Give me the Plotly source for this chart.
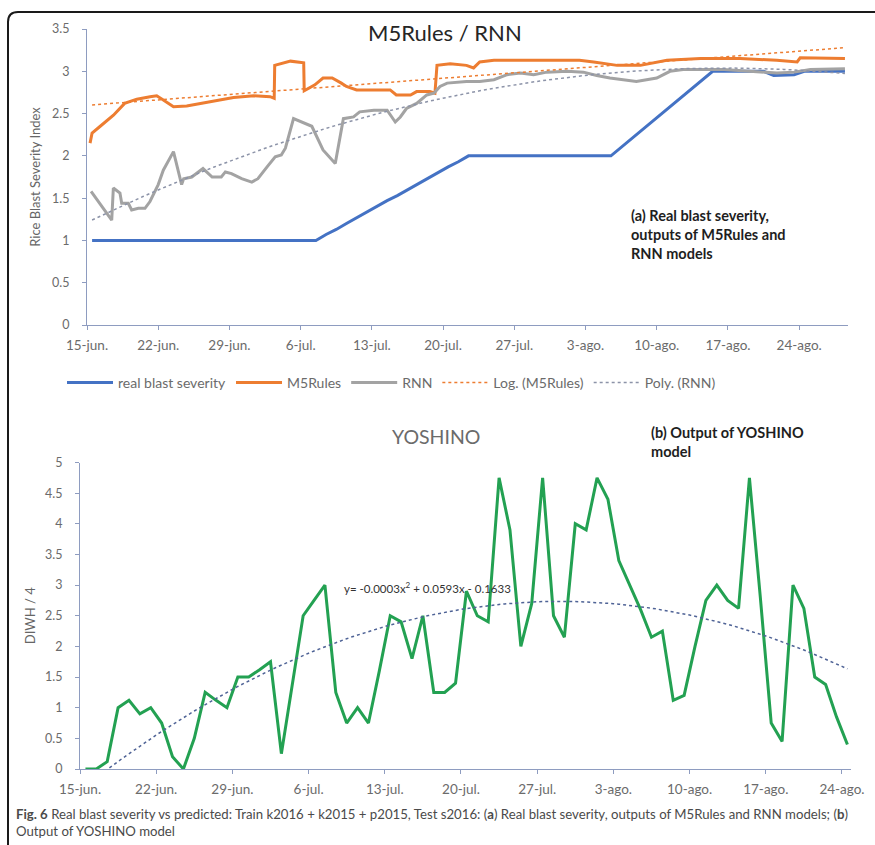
import numpy as np
import plotly.graph_objects as go

# ---------------- data ----------------
week_labels = ["15-jun.", "22-jun.", "29-jun.", "6-jul.", "13-jul.", "20-jul.",
               "27-jul.", "3-ago.", "10-ago.", "17-ago.", "24-ago."]
week_days = [0, 7, 14, 21, 28, 35, 42, 49, 56, 63, 70]

# panel (a): sample day (days after 15-jun) and index value
real_days = [0.5, 22.5, 23.5, 24.5, 25.5, 26.5, 27.5, 28.5, 29.5, 30.5, 31.5, 32.5,
             33.5, 34.5, 35.5, 36.5, 37.5, 51.5, 52.5, 53.5, 54.5, 55.5, 56.5,
             57.5, 58.5, 59.5, 60.5, 61.5, 66.5, 67.5, 69.5, 70.5, 74.5]
real_vals = [1.0, 1.0, 1.07, 1.13, 1.2, 1.27, 1.33, 1.4, 1.47, 1.53, 1.6, 1.67,
             1.73, 1.8, 1.87, 1.93, 2.0, 2.0, 2.1, 2.2, 2.3, 2.4, 2.5,
             2.6, 2.7, 2.8, 2.9, 3.0, 3.0, 2.95, 2.96, 3.0, 3.0]

m5_days = [0.3, 0.5, 1.3, 2.6, 3.7, 4.9, 6.2, 6.85, 7.5, 8.5, 9.8, 11.1, 12.75,
           14.4, 16.4, 18.0, 18.4, 18.45, 20.0, 21.3, 21.35, 22.4, 23.2, 24.1,
           25.0, 25.5, 26.5, 28.2, 29.8, 30.4, 31.8, 32.4, 33.7, 34.2, 34.4,
           35.7, 37.3, 38.0, 38.6, 40.0, 42.3, 44.5, 48.4, 49.8, 52.1, 54.4,
           57.0, 60.3, 64.2, 67.8, 69.8, 70.1, 73.4, 74.5]
m5_vals = [2.15, 2.27, 2.35, 2.48, 2.62, 2.67, 2.70, 2.71, 2.66, 2.58, 2.59, 2.62,
           2.66, 2.69, 2.71, 2.70, 2.68, 3.07, 3.12, 3.10, 2.77, 2.84, 2.92, 2.92,
           2.86, 2.82, 2.78, 2.78, 2.78, 2.72, 2.72, 2.76, 2.76, 2.74, 3.07,
           3.09, 3.07, 3.04, 3.11, 3.13, 3.13, 3.13, 3.13, 3.11, 3.07, 3.07,
           3.13, 3.15, 3.15, 3.13, 3.11, 3.16, 3.15, 3.15]

rnn_days = [0.4, 2.43, 2.59, 3.24, 3.41, 4.06, 4.39, 5.05, 5.7, 6.19, 7.0, 7.5,
            8.5, 9.3, 9.5, 10.3, 11.4, 12.3, 13.2, 13.6, 14.2, 15.2, 16.2, 16.8,
            17.7, 18.5, 19.1, 19.5, 20.3, 22.1, 23.2, 24.4, 25.2, 26.2, 26.8,
            28.2, 29.5, 30.3, 30.8, 31.4, 32.4, 33.4, 34.1, 34.7, 35.4, 37.3,
            38.6, 40.0, 41.3, 42.6, 43.9, 45.2, 47.2, 48.8, 50.1, 51.4, 54.0,
            56.0, 57.3, 58.6, 62.6, 65.9, 67.8, 69.5, 71.1, 74.5]
rnn_vals = [1.58, 1.24, 1.62, 1.56, 1.44, 1.44, 1.36, 1.38, 1.38, 1.46, 1.66, 1.83,
            2.05, 1.66, 1.73, 1.75, 1.85, 1.75, 1.75, 1.81, 1.79, 1.73, 1.69, 1.73,
            1.87, 1.99, 2.01, 2.09, 2.44, 2.35, 2.07, 1.91, 2.44, 2.46, 2.52,
            2.54, 2.54, 2.40, 2.46, 2.56, 2.62, 2.72, 2.74, 2.82, 2.86, 2.88,
            2.88, 2.90, 2.96, 2.98, 2.96, 2.99, 3.00, 2.99, 2.95, 2.92, 2.88,
            2.92, 3.00, 3.02, 3.02, 3.00, 2.98, 2.99, 3.02, 3.03]

# panel (b): daily YOSHINO output, 15-jun .. 24-ago
yoshino_vals = [0, 0, 0.12, 1.0, 1.12, 0.9, 1.0, 0.75, 0.2, 0,
                0.5, 1.25, 1.12, 1.0, 1.5, 1.5, 1.62, 1.75, 0.25, 1.4,
                2.5, 2.75, 3.0, 1.25, 0.75, 1.0, 0.75, 1.6, 2.5, 2.4,
                1.8, 2.5, 1.25, 1.25, 1.4, 2.9, 2.5, 2.4, 4.75, 3.9,
                2.0, 2.7, 4.75, 2.5, 2.15, 4.0, 3.9, 4.75, 4.4, 3.4,
                3.0, 2.6, 2.15, 2.25, 1.12, 1.2, 2.0, 2.75, 3.0, 2.75,
                2.62, 4.75, 2.8, 0.75, 0.45, 3.0, 2.62, 1.5, 1.38, 0.85, 0.4]
yoshino_days = [i + 0.5 for i in range(len(yoshino_vals))]

equation_text = "y= -0.0003x<sup>2</sup> + 0.0593x - 0.1633"

# ---------------- trend lines ----------------
SERIAL0 = 42536  # spreadsheet serial of 15-jun-2016
grid = np.arange(0.5, 75.0, 1.0)
m5_daily = np.interp(grid, m5_days, m5_vals)
rnn_daily = np.interp(grid, rnn_days, rnn_vals)
la, lb = np.polyfit(np.log(SERIAL0 + grid), m5_daily, 1)
log_trend = la * np.log(SERIAL0 + grid) + lb
rnn_poly = np.polyval(np.polyfit(grid, rnn_daily, 2), grid)

yd = np.array(yoshino_days)
yosh_fit = np.polyfit(yd, yoshino_vals, 2)
yosh_x = np.linspace(yd[0], yd[-1], 141)
yosh_trend = np.polyval(yosh_fit, yosh_x)

# ---------------- figure ----------------
W, H = 875, 845


def px(x):
    return x / W


def py(y):
    return 1 - y / H


BLUE = "#4472C4"
ORANGE = "#ED7D31"
GRAY = "#A3A3A3"
GREEN = "#23A152"
AXIS = "#8E9CC0"
TICKTXT = "#6b6b6b"
FONT = "Lato, 'Open Sans', sans-serif"

fig = go.Figure()

fig.add_trace(go.Scatter(x=real_days, y=real_vals, mode="lines", name="real blast severity",
                         line=dict(color=BLUE, width=3), xaxis="x", yaxis="y"))
fig.add_trace(go.Scatter(x=m5_days, y=m5_vals, mode="lines", name="M5Rules",
                         line=dict(color=ORANGE, width=3), xaxis="x", yaxis="y"))
fig.add_trace(go.Scatter(x=rnn_days, y=rnn_vals, mode="lines", name="RNN",
                         line=dict(color=GRAY, width=3), xaxis="x", yaxis="y"))
fig.add_trace(go.Scatter(x=grid, y=log_trend, mode="lines", name="Log. (M5Rules)",
                         line=dict(color=ORANGE, width=1.5, dash="dot"), xaxis="x", yaxis="y"))
fig.add_trace(go.Scatter(x=grid, y=rnn_poly, mode="lines", name="Poly. (RNN)",
                         line=dict(color="#8C93A8", width=1.5, dash="dot"), xaxis="x", yaxis="y"))

fig.add_trace(go.Scatter(x=yd, y=yoshino_vals, mode="lines", name="YOSHINO",
                         line=dict(color=GREEN, width=3), showlegend=False,
                         xaxis="x2", yaxis="y2"))
fig.add_trace(go.Scatter(x=yosh_x, y=yosh_trend, mode="lines", name="Poly. (YOSHINO)",
                         line=dict(color="#4F6396", width=1.5, dash="dot"), showlegend=False,
                         xaxis="x2", yaxis="y2"))

axis_common = dict(showline=True, linecolor=AXIS, linewidth=1.2, ticks="outside",
                   tickcolor=AXIS, ticklen=4, showgrid=False, zeroline=False,
                   automargin=False)
xtick_font = dict(family=FONT, size=13.5, color=TICKTXT)
ytick_font = dict(family=FONT, size=12.5, color=TICKTXT)

fig.update_layout(
    width=W, height=H,
    margin=dict(l=0, r=0, t=0, b=0),
    paper_bgcolor="white", plot_bgcolor="white",
    xaxis=dict(domain=[px(87), px(848)], range=[0, 74.8], tickvals=week_days,
               ticktext=week_labels, anchor="y", ticklabelstandoff=4,
               tickfont=xtick_font, **axis_common),
    yaxis=dict(domain=[py(325), py(29)], range=[0, 3.5], dtick=0.5, anchor="x",
               ticklabelstandoff=10, tickfont=ytick_font,
               title=dict(text="Rice Blast Severity Index", standoff=8,
                          font=dict(family=FONT, size=13, color="#666666")),
               **axis_common),
    xaxis2=dict(domain=[px(80), px(851)], range=[0, 70.83], tickvals=week_days,
                ticktext=week_labels, anchor="y2", ticklabelstandoff=4,
                tickfont=xtick_font, **axis_common),
    yaxis2=dict(domain=[py(769), py(462.5)], range=[0, 5], dtick=0.5, anchor="x2",
                ticklabelstandoff=10, tickfont=ytick_font,
                title=dict(text="DIWH / 4", standoff=6,
                           font=dict(family=FONT, size=13, color="#666666")),
                **axis_common),
    showlegend=True,
    legend=dict(orientation="h", x=px(62), y=py(367), xanchor="left", yanchor="top",
                font=dict(family=FONT, size=14, color="#6b6b6b"),
                itemwidth=46, bgcolor="rgba(0,0,0,0)"),
)

annotations = [
    dict(text="M5Rules / RNN", x=px(445), y=py(33), font=dict(family=FONT, size=22, color="#262626")),
    dict(text="YOSHINO", x=px(436), y=py(436), font=dict(family=FONT, size=19.5, color="#6b6b6b")),
    dict(text="<b>(a) Real blast severity,<br>outputs of M5Rules and<br>RNN models</b>",
         x=px(629), y=py(235), xanchor="left", align="left",
         font=dict(family=FONT, size=14.5, color="#1e1e1e")),
    dict(text="<b>(b) Output of YOSHINO<br>model</b>", x=px(649), y=py(442),
         xanchor="left", align="left", font=dict(family=FONT, size=14.5, color="#1e1e1e")),
    dict(text=equation_text, x=px(342), y=py(587), xanchor="left",
         font=dict(family=FONT, size=11.5, color="#333333")),
    dict(text="<b>Fig. 6</b> Real blast severity vs predicted: Train k2016 + k2015 + p2015, "
              "Test s2016: (<b>a</b>) Real blast severity, outputs of M5Rules and RNN models; (<b>b</b>)",
         x=px(14), y=py(814), xanchor="left", font=dict(family=FONT, size=13.2, color="#4a4a4a")),
    dict(text="Output of YOSHINO model", x=px(14), y=py(831), xanchor="left",
         font=dict(family=FONT, size=13.2, color="#4a4a4a")),
]
for a in annotations:
    a.update(xref="paper", yref="paper", showarrow=False, yanchor="middle")
    a.setdefault("xanchor", "center")
fig.update_layout(annotations=annotations)

# outer frame with a rounded top-left corner
r = 10
frame = (f"M {px(8)},{py(860)} L {px(8)},{py(12 + r)} "
         f"Q {px(8)},{py(12)} {px(8 + r)},{py(12)} L {px(890)},{py(12)}")
fig.add_shape(type="path", path=frame, xref="paper", yref="paper",
              line=dict(color="#1a1a1a", width=2))

fig.write_html("out.html")
